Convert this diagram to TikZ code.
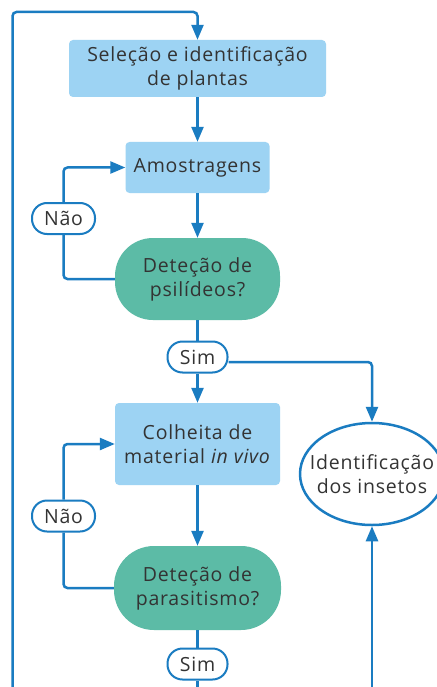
\documentclass[tikz,border=0pt]{standalone}
\usepackage{fontspec}
\setmainfont{Open Sans}[LetterSpace=4]
\usetikzlibrary{arrows.meta,shapes.geometric}
\definecolor{lineblue}{HTML}{1A7CC1}
\definecolor{boxblue}{HTML}{9DD3F3}
\definecolor{decgreen}{HTML}{5CBBA6}
\definecolor{txtgray}{HTML}{333333}
\begin{document}
\begin{tikzpicture}[x=1pt,y=-1pt,
  every node/.style={font=\fontsize{19.5}{24}\selectfont, text=txtgray, align=center, inner sep=0pt},
  procbox/.style={fill=boxblue, rounded corners=4pt},
  decbox/.style={fill=decgreen, rounded corners=38pt},
  tagbox/.style={draw=lineblue, line width=2pt, fill=white, rounded corners=15pt, minimum width=63pt, minimum height=31pt},
  conn/.style={draw=lineblue, line width=2.5pt, rounded corners=4pt},
  arr/.style={conn, -{Triangle[length=15pt,width=12pt]}}]
\useasboundingbox (0,0) rectangle (436,687);
\fill[white] (0,0) rectangle (436,687);
\node[procbox, minimum width=257pt, minimum height=57pt] (b1) at (197.5,68.5) {Seleção e identificação\\de plantas};
\node[procbox, minimum width=144pt, minimum height=51pt] (b2) at (197.5,167.5) {Amostragens};
\node[decbox, minimum width=165pt, minimum height=82pt] (d1) at (197.5,279) {Deteção de\\psilídeos?};
\node[tagbox] (n1) at (63.5,218.5) {Não};
\node[tagbox, minimum width=60pt] (s1) at (197.5,357) {Sim};
\node[procbox, minimum width=165pt, minimum height=82pt] (b3) at (197.5,444) {Colheita de\\material \textit{in vivo}};
\node[decbox, minimum width=167pt, minimum height=84pt, rounded corners=40pt] (d2) at (197.5,588) {Deteção de\\parasitismo?};
\node[tagbox] (n2) at (63.5,516) {Não};
\node[tagbox, minimum width=60pt] (s2) at (197.5,664) {Sim};
\node[ellipse, draw=lineblue, line width=2.5pt, fill=white, minimum width=144pt, minimum height=102pt] (e) at (372,474) {};
\node (et) at (e.center) {Identificação\\dos insetos};
\coordinate (bl) at (12.5,700);
\coordinate (tl) at (12.5,12);
\coordinate (tr) at (197.5,12);
\coordinate (bm) at (197.5,700);
\coordinate (br) at (372,700);
\draw[arr] (bl) -- (tl) -- (tr) -- (b1.north);
\draw[arr] (b1.south) -- (b2.north);
\draw[arr] (b2.south) -- (d1.north);
\draw[conn] (d1.west) -| (n1.south);
\draw[arr] (n1.north) |- (b2.west);
\draw[conn] (d1.south) -- (s1.north);
\draw[arr] (s1.south) -- (b3.north);
\draw[arr] ([yshift=-5pt]s1.east) -| (e.north);
\draw[arr] (b3.south) -- (d2.north);
\draw[conn] (d2.west) -| (n2.south);
\draw[arr] (n2.north) |- (b3.west);
\draw[conn] (d2.south) -- (s2.north);
\draw[conn] (s2.south) -- (bm);
\draw[arr] (br) -- (e.south);
\end{tikzpicture}
\end{document}
